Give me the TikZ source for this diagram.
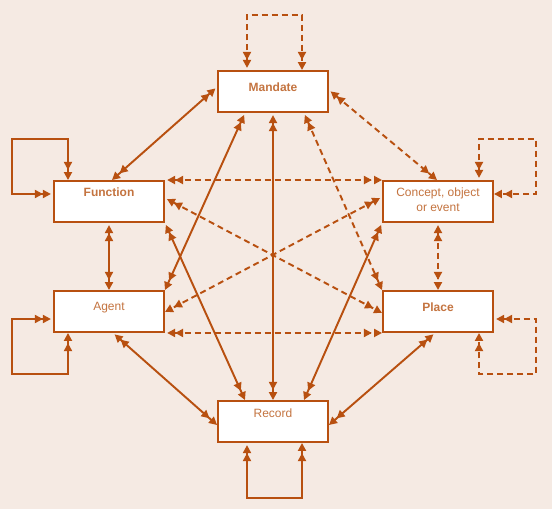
\documentclass[tikz,border=0pt]{standalone}
\usepackage{fontspec}
\setmainfont{Liberation Sans}
\usetikzlibrary{arrows.meta,calc}
\definecolor{bgc}{RGB}{245,234,227}
\definecolor{linec}{RGB}{184,80,16}
\definecolor{txtc}{RGB}{196,116,64}
\tikzset{
  hd/.tip={Triangle[length=6pt,width=6pt]},
  conn/.style={draw=linec,line width=1.45pt,arrows={hd[sep=1.6pt]hd-hd[sep=1.6pt]hd}},
  dsh/.style={conn,dash pattern=on 4.5pt off 3pt},
  box/.style={draw=linec,fill=white,line width=1.45pt,minimum width=82.5pt,minimum height=30.75pt,inner sep=0pt},
  txt/.style={text=txtc,font=\fontsize{9}{11}\selectfont,align=center,inner sep=0pt},
  btxt/.style={txt,font=\fontsize{9}{11}\selectfont\bfseries}
}
\begin{document}
\begin{tikzpicture}[x=0.75pt,y=-0.75pt]
\fill[bgc] (0,0) rectangle (552,509);
\useasboundingbox (0,0) rectangle (552,509);
% boxes
\node[box,label={[btxt,yshift=3pt]center:Mandate}] (M) at (273,91.5) {};
\node[box,label={[btxt,yshift=6.6pt]center:Function}] (F) at (109,201.5) {};
\node[box,label={[txt,yshift=1.5pt]center:Concept, object\\or event}] (C) at (438,201.5) {};
\node[box,label={[txt,yshift=3pt]center:Agent}] (A) at (109,311.5) {};
\node[box,label={[btxt,yshift=3pt]center:Place}] (P) at (438,311.5) {};
\node[box,label={[txt,yshift=6pt]center:Record}] (R) at (273,421.5) {};
% self loops
\draw[dsh] ($(M.north)+(-26,0)$) -- ++(0,-55) -| ($(M.north)+(29,0)$);
\draw[conn] ($(F.west)+(0,-7.5)$) -- ++(-41,0) |- ($(F.north)+(-41,-41)$) -- ($(F.north)+(-41,0)$);
\draw[dsh] ($(C.north)+(41,0)$) -- ++(0,-41) -| ($(C.east)+(42,-7.5)$) -- ($(C.east)+(0,-7.5)$);
\draw[conn] ($(A.west)+(0,7.5)$) -- ++(-41,0) |- ($(A.south)+(-41,41)$) -- ($(A.south)+(-41,0)$);
\draw[dsh] ($(P.east)+(0,7.5)$) -- ++(42,0) |- ($(P.south)+(41,41)$) -- ($(P.south)+(41,0)$);
\draw[conn] ($(R.south)+(-26,0)$) -- ++(0,55) -| ($(R.south)+(29,0)$);
% connectors
\draw[conn] ($(M.west)+(0,-4.5)$) -- ($(F.north)+(3,0)$);
\draw[dsh] ($(M.east)+(0,-1.5)$) -- ($(C.north)+(-1,0)$);
\draw[conn] ($(M.south)+(-28,0)$) -- (A.north east);
\draw[conn] (M.south) -- (R.north);
\draw[dsh] ($(M.south)+(31,0)$) -- (P.north west);
\draw[dsh] (F.north east) -- (C.north west);
\draw[dsh] ($(F.east)+(0,-3.5)$) -- ($(P.west)+(0,1.5)$);
\draw[conn] (F.south east) -- ($(R.north)+(-28,0)$);
\draw[conn] (F.south) -- (A.north);
\draw[dsh] ($(C.west)+(0,-4.5)$) -- ($(A.east)+(0,0.5)$);
\draw[conn] (C.south west) -- ($(R.north)+(31,0)$);
\draw[dsh] (C.south) -- (P.north);
\draw[dsh] (A.south east) -- (P.south west);
\draw[conn] ($(A.south)+(4,0)$) -- ($(R.west)+(0,3.5)$);
\draw[conn] ($(P.south)+(-3,0)$) -- ($(R.east)+(0,3.5)$);
\end{tikzpicture}
\end{document}
